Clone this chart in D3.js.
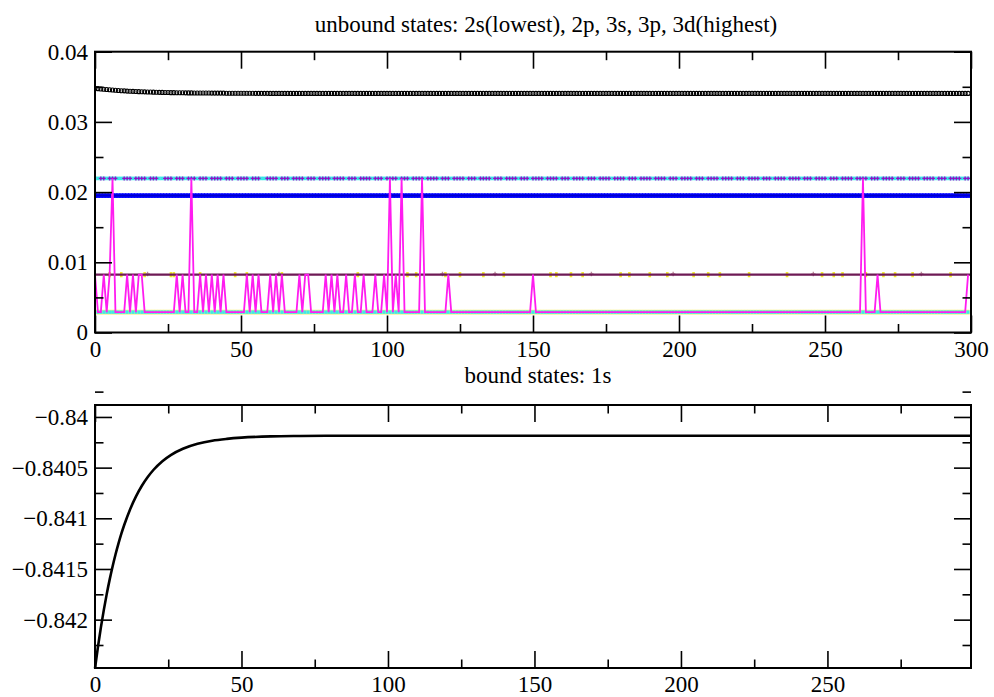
<!DOCTYPE html>
<html><head><meta charset="utf-8">
<script src="https://cdn.jsdelivr.net/npm/d3@7"></script>
<style>
body{margin:0;background:#fff}
svg{display:block}
text{font-family:"Liberation Serif","DejaVu Serif",serif;fill:#000}
</style>
</head><body>
<svg id="c" width="994" height="697"></svg>
<script>
// ---------- data ----------
const topTitle = "unbound states: 2s(lowest), 2p, 3s, 3p, 3d(highest)";
const botTitle = "bound states: 1s";
const topXTicks = [0, 50, 100, 150, 200, 250, 300];
const topXMinor = [25, 75, 125, 175, 225, 275];
const topYTicks = [0, 0.01, 0.02, 0.03, 0.04];
const topYMinor = [0.005, 0.015, 0.025, 0.035];
const botXTicks = [0, 50, 100, 150, 200, 250];
const botXMinor = [25, 75, 125, 175, 225, 275];
const botYTicks = [-0.84, -0.8405, -0.841, -0.8415, -0.842];
const botYMinor = [-0.83975, -0.84025, -0.84075, -0.84125, -0.84175, -0.84225];

const iterations = d3.range(0, 300);          // sample index 0..299

// 3d (highest) : values read for the first 60 iterations, then flat
const state3dHead = [0.03479,0.03474,0.03469,0.03465,0.03461,0.03457,0.03454,0.03450,0.03447,0.03444,
  0.03442,0.03439,0.03437,0.03435,0.03433,0.03431,0.03429,0.03428,0.03426,0.03425,
  0.03424,0.03422,0.03421,0.03420,0.03419,0.03418,0.03417,0.03417,0.03416,0.03415,
  0.03415,0.03414,0.03413,0.03413,0.03412,0.03412,0.03412,0.03411,0.03411,0.03411,
  0.03410,0.03410,0.03410,0.03410,0.03410,0.03409,0.03409,0.03409,0.03409,0.03409,
  0.03408,0.03408,0.03408,0.03408,0.03408,0.03407,0.03407,0.03407,0.03407,0.03407];
const state3dFlat = 0.03406;
const level3p = 0.02195;   // violet / cyan band
const level3s = 0.01950;   // blue band
const level2p = 0.00824;   // maroon line
const level2s = 0.00290;   // cyan / yellow band

// magenta series: index where it sits on the 2p level / on the 3p level (else on 2s)
const magentaAt2p = [0,3,5,11,13,15,16,28,30,36,38,40,42,44,52,54,56,60,62,64,70,72,73,79,81,83,86,89,92,96,99,103,121,150,268,299];
const magentaAt3p = [6,33,101,105,112,263];
// indices where the cyan symbols of the 3p band are not covered by violet
const cyanShow3p = [0,1,4,8,9,13,18,22,23,27,31,35,39,44,48,53,57,58,63,67,72,76,81,86,90,95,99,104,108,113,118,122,127,131,136,140,145,149,154,159,163,168,172,177,182,186,191,196,200,205,209,214,219,223,228,232,237,242,246,251,255,260,265,269,274,278,283,288,292,297];
// yellow symbols visible on the 2p line
const yellowOn2p = [5,9,17,26,27,36,48,52,64,90,107,110,120,125,133,140,156,158,163,167,180,183,190,196,205,210,214,224,237,249,253,256,264,270,274,280,293];
// greyish symbols on the 2p line
const greyOn2p = [18,63,119,137,170,198,246,283];

// bound 1s energy vs iteration (read points)
const boundX = [0,1,2,3,4,5,6,7,8,9,10,12,14,16,18,20,23,26,30,35,40,45,50,60,70,80,100,150,200,299];
const boundE = [-0.842480,-0.842270,-0.842079,-0.841906,-0.841748,-0.841605,-0.841475,-0.841357,-0.841250,-0.841152,
  -0.841064,-0.840910,-0.840784,-0.840679,-0.840593,-0.840521,-0.840437,-0.840374,-0.840314,-0.840265,
  -0.840234,-0.840216,-0.840204,-0.840192,-0.840188,-0.840186,-0.840185,-0.840185,-0.840185,-0.840185];

// ---------- layout ----------
const svg = d3.select("#c");
const L = 95, R = 971;
const T1 = 51.7, B1 = 332.5;
const T2 = 405, B2 = 668;
const FS = 23;
const SERIF = '"Liberation Serif","DejaVu Serif",serif';

const x1 = d3.scaleLinear().domain([0, 300]).range([L, R]);
const y1 = d3.scaleLinear().domain([0, 0.04]).range([B1, T1]);
const x2 = d3.scaleLinear().domain([0, 299]).range([L, R]);
const y2 = d3.scaleLinear().domain([-0.842477, -0.839882]).range([B2, T2]);

function drawAxes(x, y, T, B, xt, xm, yt, ym, yfmt) {
  const g = svg.append("g");
  const mk = (axis, tr) => {
    const a = g.append("g").attr("transform", tr).call(axis);
    a.attr("font-family", null).attr("font-size", null);
    a.select(".domain").remove();
    a.selectAll("line").attr("stroke", "#000").attr("stroke-width", 1.6);
    a.selectAll("text").style("font-family", SERIF).style("font-size", FS + "px");
    return a;
  };
  mk(d3.axisBottom(x).tickValues(xt).tickSize(-17).tickSizeOuter(0).tickPadding(8).tickFormat(d3.format("d")), `translate(0,${B})`);
  mk(d3.axisBottom(x).tickValues(xm).tickSize(-8.5).tickSizeOuter(0).tickFormat(""), `translate(0,${B})`);
  mk(d3.axisTop(x).tickValues(xt).tickSize(-17).tickSizeOuter(0).tickFormat(""), `translate(0,${T})`);
  mk(d3.axisTop(x).tickValues(xm).tickSize(-8.5).tickSizeOuter(0).tickFormat(""), `translate(0,${T})`);
  mk(d3.axisLeft(y).tickValues(yt).tickSize(-17).tickSizeOuter(0).tickPadding(7).tickFormat(yfmt), `translate(${L},0)`);
  mk(d3.axisLeft(y).tickValues(ym).tickSize(-8.5).tickSizeOuter(0).tickFormat(""), `translate(${L},0)`);
  mk(d3.axisRight(y).tickValues(yt).tickSize(-17).tickSizeOuter(0).tickFormat(""), `translate(${R},0)`);
  mk(d3.axisRight(y).tickValues(ym).tickSize(-8.5).tickSizeOuter(0).tickFormat(""), `translate(${R},0)`);
  g.append("rect").attr("x", L).attr("y", T).attr("width", R - L).attr("height", B - T)
    .attr("fill", "none").attr("stroke", "#000").attr("stroke-width", 2);
}

// ---------- top panel marks ----------
const p1 = svg.append("g");
p1.append("clipPath").attr("id", "clip1").append("rect")
  .attr("x", L).attr("y", T1).attr("width", R - L).attr("height", B1 - T1);
const g1 = p1.append("g").attr("clip-path", "url(#clip1)");

const state3d = iterations.map(i => i < state3dHead.length ? state3dHead[i] : state3dFlat);

// 2s band: yellow under, cyan over
g1.selectAll(".y2s").data(iterations).join("rect")
  .attr("x", d => x1(d) - 1.6).attr("y", y1(level2s) - 2.4).attr("width", 3.2).attr("height", 4.8).attr("fill", "#f5f07a");
g1.selectAll(".c2s").data(iterations).join("rect")
  .attr("x", d => x1(d) - 1.4).attr("y", y1(level2s) - 1.7).attr("width", 2.8).attr("height", 3.4).attr("fill", "#3ee8e8");

// 3s band: blue symbols
g1.selectAll(".b3s").data(iterations).join("rect")
  .attr("x", d => x1(d) - 2).attr("y", y1(level3s) - 2.3).attr("width", 4).attr("height", 4.6).attr("fill", "#0000ff");
g1.append("line").attr("x1", L).attr("x2", R).attr("y1", y1(level3s)).attr("y2", y1(level3s))
  .attr("stroke", "#0000c8").attr("stroke-width", 1.5);

// 3p band: cyan under, violet plus symbols
g1.selectAll(".c3p").data(iterations).join("rect")
  .attr("x", d => x1(d) - 1.6).attr("y", y1(level3p) - 1.8).attr("width", 3.2).attr("height", 3.6).attr("fill", "#39e6e6");
const violetIdx = iterations.filter(i => !cyanShow3p.includes(i));
const plus = (g, idx, yv, col, s) => g.append("path")
  .attr("d", idx.map(i => `M${x1(i) - s},${y1(yv)}h${2 * s}M${x1(i)},${y1(yv) - s}v${2 * s}`).join(""))
  .attr("stroke", col).attr("stroke-width", 1.4).attr("fill", "none");
plus(g1, violetIdx, level3p, "#9012c8", 2.0);

// 2p line with yellow / grey symbols
g1.selectAll(".y2p").data(yellowOn2p).join("rect")
  .attr("x", d => x1(d) - 1.3).attr("y", y1(level2p) - 2.6).attr("width", 2.6).attr("height", 5.2).attr("fill", "#f2ea2a");
plus(g1, greyOn2p, level2p + 0.0001, "#b88a9a", 2.2);
g1.append("line").attr("x1", L).attr("x2", R).attr("y1", y1(level2p)).attr("y2", y1(level2p))
  .attr("stroke", "#6e1a55").attr("stroke-width", 2.2);

// magenta switching series
const magenta = iterations.map(i => magentaAt3p.includes(i) ? level3p : (magentaAt2p.includes(i) ? level2p : level2s));
g1.append("path").datum(iterations)
  .attr("d", d3.line().x(i => x1(i)).y(i => y1(magenta[i])))
  .attr("fill", "none").attr("stroke", "#ff1cf0").attr("stroke-width", 1.8).attr("stroke-linejoin", "miter");

// 3d (black circles)
g1.selectAll(".k3d").data(iterations).join("circle")
  .attr("cx", d => x1(d)).attr("cy", d => y1(state3d[d])).attr("r", 2)
  .attr("fill", "none").attr("stroke", "#000").attr("stroke-width", 1.1);

drawAxes(x1, y1, T1, B1, topXTicks, topXMinor, topYTicks, topYMinor, d => d === 0 ? "0" : d3.format(".2f")(d));

svg.append("text").attr("x", 546).attr("y", 32).attr("text-anchor", "middle")
  .style("font-family", SERIF).style("font-size", FS + "px").text(topTitle);

// ---------- bottom panel ----------
const p2 = svg.append("g");
p2.append("path").datum(boundX.map((xv, i) => [xv, boundE[i]]))
  .attr("d", d3.line().x(d => x2(d[0])).y(d => y2(d[1])).curve(d3.curveMonotoneX))
  .attr("fill", "none").attr("stroke", "#000").attr("stroke-width", 2.6);

drawAxes(x2, y2, T2, B2, botXTicks, botXMinor, botYTicks, botYMinor, d => String(+d.toFixed(4)).replace("-", "\u2212"));

svg.append("text").attr("x", 538).attr("y", 383).attr("text-anchor", "middle")
  .style("font-family", SERIF).style("font-size", FS + "px").text(botTitle);
</script>
</body></html>
